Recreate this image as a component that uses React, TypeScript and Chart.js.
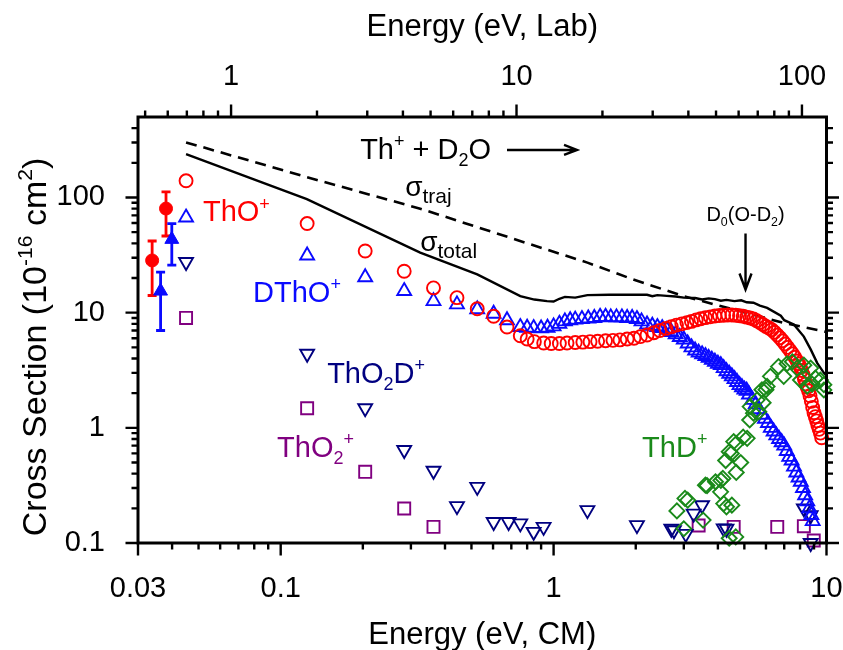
import React, { useEffect, useRef } from "react";
import { Chart, registerables } from "chart.js";

Chart.register(...registerables);

const FONT = "'Liberation Sans', Arial, Helvetica, sans-serif";

// ---------------- data ----------------
const thoX = [0.045, 0.125, 0.204, 0.2835, 0.363, 0.4425, 0.525, 0.603, 0.675, 0.755, 0.8, 0.85, 0.92, 0.98, 1.05, 1.12, 1.2, 1.28, 1.36, 1.45, 1.55, 1.65, 1.75, 1.86, 1.97, 2.08, 2.2, 2.33, 2.45, 2.58, 2.7, 2.82, 2.95, 3.08, 3.2, 3.33, 3.46, 3.6, 3.75, 3.9, 4.05, 4.2, 4.35, 4.5, 4.65, 4.8, 4.95, 5.1, 5.25, 5.4, 5.55, 5.7, 5.85, 6.0, 6.15, 6.3, 6.45, 6.6, 6.75, 6.9, 7.05, 7.2, 7.35, 7.5, 7.65, 7.8, 7.9, 8.0, 8.1, 8.2, 8.3, 8.4, 8.5, 8.6, 8.7, 8.8, 8.9, 9.0, 9.1, 9.2, 9.3, 9.4, 9.5, 9.6];
const thoY = [139.6, 59.4, 34.3, 22.9, 16.4, 13.5, 10.8, 9.3, 7.5, 6.3, 5.9, 5.6, 5.45, 5.4, 5.4, 5.45, 5.5, 5.55, 5.6, 5.65, 5.7, 5.75, 5.8, 5.9, 6.0, 6.2, 6.4, 6.7, 7.0, 7.3, 7.55, 7.8, 8.0, 8.2, 8.4, 8.65, 8.85, 9.05, 9.2, 9.35, 9.45, 9.5, 9.55, 9.55, 9.5, 9.4, 9.3, 9.15, 9.0, 8.8, 8.5, 8.2, 7.9, 7.6, 7.35, 7.1, 6.75, 6.4, 6.05, 5.7, 5.35, 5.0, 4.7, 4.4, 4.1, 3.8, 3.6, 3.4, 3.15, 2.9, 2.65, 2.4, 2.25, 2.1, 1.9, 1.7, 1.5, 1.35, 1.25, 1.15, 1.05, 0.97, 0.9, 0.82];

const dthoX = [0.045, 0.125, 0.204, 0.2835, 0.363, 0.4425, 0.525, 0.603, 0.675, 0.755, 0.8, 0.845, 0.9, 0.95, 1.0, 1.05, 1.1, 1.15, 1.2, 1.27, 1.34, 1.41, 1.48, 1.55, 1.62, 1.7, 1.78, 1.86, 1.94, 2.02, 2.1, 2.2, 2.3, 2.4, 2.5, 2.6, 2.7, 2.8, 2.9, 3.0, 3.1, 3.2, 3.3, 3.4, 3.5, 3.6, 3.7, 3.8, 3.9, 4.0, 4.1, 4.2, 4.3, 4.4, 4.5, 4.6, 4.7, 4.8, 4.9, 5.0, 5.1, 5.2, 5.35, 5.5, 5.65, 5.8, 5.95, 6.1, 6.25, 6.4, 6.55, 6.7, 6.85, 7.0, 7.15, 7.3, 7.45, 7.6, 7.75, 7.9, 8.05, 8.2, 8.35, 8.5, 8.65, 8.8, 8.9];
const dthoY = [67, 31.4, 20.3, 15.4, 12.6, 11.8, 10.7, 9.8, 8.6, 7.5, 7.4, 7.35, 7.3, 7.4, 7.6, 8.0, 8.4, 8.6, 8.7, 8.8, 8.9, 9.0, 9.2, 9.2, 9.1, 9.1, 9.1, 9.0, 9.0, 8.8, 8.4, 7.9, 7.7, 7.5, 7.35, 7.1, 6.8, 6.5, 6.15, 5.85, 5.4, 5.0, 4.7, 4.5, 4.35, 4.2, 4.05, 3.9, 3.75, 3.6, 3.5, 3.3, 3.1, 2.95, 2.8, 2.65, 2.5, 2.35, 2.25, 2.15, 2.1, 1.95, 1.75, 1.6, 1.45, 1.3, 1.2, 1.1, 1.0, 0.93, 0.86, 0.8, 0.75, 0.7, 0.63, 0.56, 0.52, 0.46, 0.41, 0.37, 0.34, 0.3, 0.26, 0.23, 0.2, 0.175, 0.155];

const tho2dX = [0.045, 0.125, 0.204, 0.2835, 0.363, 0.4425, 0.525, 0.603, 0.684, 0.755, 0.845, 0.919, 1.33, 2.02, 2.7, 2.76, 3.05, 3.26, 3.5, 4.2, 4.3, 8.26, 8.75, 8.75];
const tho2dY = [27.5, 4.4, 1.48, 0.642, 0.424, 0.209, 0.307, 0.152, 0.152, 0.148, 0.125, 0.138, 0.193, 0.143, 0.133, 0.129, 0.12, 0.18, 0.213, 0.134, 0.133, 0.2, 0.174, 0.1];

const tho2X = [0.045, 0.125, 0.204, 0.2835, 0.363, 3.4, 4.57, 6.6, 8.26, 8.98];
const tho2Y = [9.0, 1.48, 0.415, 0.1995, 0.138, 0.142, 0.138, 0.138, 0.14, 0.105];

const thdX = [2.83, 3.0, 3.03, 3.1, 3.53, 3.6, 3.65, 3.92, 4.1, 4.09, 4.17, 4.2, 4.3, 4.4, 4.27, 4.5, 4.65, 4.4, 4.48, 4.57, 4.67, 4.67, 4.85, 4.95, 5.12, 5.23, 5.4, 5.25, 5.57, 5.65, 5.86, 5.8, 6.0, 6.06, 6.23, 6.67, 6.97, 7.17, 7.5, 7.8, 8.03, 8.26, 8.5, 8.75, 8.86, 9.1, 9.5, 9.78, 9.78];
const thdY = [0.19, 0.133, 0.244, 0.2355, 0.158, 0.318, 0.315, 0.34, 0.35, 0.278, 0.364, 0.22, 0.206, 0.11, 0.52, 0.213, 0.113, 0.62, 0.6, 0.76, 0.73, 0.41, 0.5, 0.83, 0.81, 1.17, 1.34, 1.53, 1.75, 1.38, 1.65, 2.14, 2.14, 2.29, 2.8, 3.4, 2.8, 3.6, 3.75, 3.3, 2.6, 3.5, 2.3, 3.3, 2.4, 2.7, 2.6, 2.37, 2.13];

const totalX = [0.045, 0.1247, 0.3245, 0.525, 0.755, 0.85, 0.946, 1.0, 1.05, 1.1, 1.2, 1.33, 1.6, 2.0, 2.2, 2.3, 2.4, 2.6, 2.8, 3.0, 3.3, 3.5, 3.7, 3.9, 4.1, 4.3, 4.6, 4.87, 5.1, 5.4, 5.7, 6.06, 6.8, 7.0, 7.59, 8.26, 8.75, 9.25, 9.78, 9.9];
const totalY = [238, 96.6, 33.2, 21.5, 13.9, 13.0, 12.6, 12.5, 13.2, 13.7, 13.5, 14.2, 14.3, 14.3, 14.3, 13.9, 14.2, 14.0, 13.8, 13.5, 13.4, 13.0, 13.3, 13.1, 12.7, 12.9, 12.6, 12.8, 12.3, 12.2, 11.5, 11.0, 9.4, 8.6, 7.9, 6.2, 4.8, 3.65, 3.0, 2.9];

const trajX = [0.045, 0.125, 0.3245, 0.92, 1.33, 1.96, 3.0, 6.97, 10];
const trajY = [301, 150, 80, 36, 27.2, 19.4, 13.9, 8.15, 6.8];

const errThoX = [0.0338, 0.038];
const errThoY = [28.4, 80.2];
const errThoLo = [14.1, 46.3];
const errThoHi = [41.9, 111.9];

const errDthoX = [0.0363, 0.0399];
const errDthoY = [15.4, 43.3];
const errDthoLo = [7.0, 25.9];
const errDthoHi = [22.5, 59.4];

// axis ranges and tick values
const cmRange = [0.03, 10];
const labRange = [0.472, 121.9];
const yRange = [0.1, 500];
const xMajor = [0.03, 0.1, 1, 10];
const xMinor = [0.04, 0.05, 0.06, 0.07, 0.08, 0.09, 0.2, 0.3, 0.4, 0.5, 0.6, 0.7, 0.8, 0.9, 2, 3, 4, 5, 6, 7, 8, 9];
const labMajor = [1, 10, 100];
const labMinor = [0.5, 0.6, 0.7, 0.8, 0.9, 2, 3, 4, 5, 6, 7, 8, 9, 20, 30, 40, 50, 60, 70, 80, 90];
const yMajor = [0.1, 1, 10, 100];
const yMinor = [0.2, 0.3, 0.4, 0.5, 0.6, 0.7, 0.8, 0.9, 2, 3, 4, 5, 6, 7, 8, 9, 20, 30, 40, 50, 60, 70, 80, 90, 200, 300, 400];

// ---------------- styling ----------------
const RED = "#ff0000";
const BLUE = "#0a0aff";
const NAVY = "#000080";
const PURPLE = "#800080";
const GREEN = "#1a8a1a";

type Seg = [string, ("sup" | "sub")?];

const annotations: { segs: Seg[]; x: number; y: number; color: string; size: number; small?: number; align?: string; arrow?: string }[] = [
  { segs: [["ThO"], ["+", "sup"]], x: 0.0519, y: 62, color: RED, size: 29 },
  { segs: [["DThO"], ["+", "sup"]], x: 0.0792, y: 12.5, color: BLUE, size: 29 },
  { segs: [["ThO"], ["2", "sub"], ["D"], ["+", "sup"]], x: 0.148, y: 2.46, color: NAVY, size: 29 },
  { segs: [["ThO"], ["2", "sub"], ["+", "sup"]], x: 0.097, y: 0.558, color: PURPLE, size: 29 },
  { segs: [["ThD"], ["+", "sup"]], x: 2.11, y: 0.558, color: GREEN, size: 29 },
  { segs: [["Th"], ["+", "sup"], [" + D"], ["2", "sub"], ["O"]], x: 0.1955, y: 216, color: "#000", size: 29, arrow: "right" },
  { segs: [["σ"], ["traj", "sub"]], x: 0.286, y: 102.6, color: "#000", size: 28, small: 21 },
  { segs: [["σ"], ["total", "sub"]], x: 0.3245, y: 34, color: "#000", size: 28, small: 21 },
  { segs: [["D"], ["0", "sub"], ["(O-D"], ["2", "sub"], [")"]], x: 5.05, y: 62, color: "#000", size: 20, align: "center", arrow: "down" },
];

const pts = (xs: number[], ys: number[]) => xs.map((x, i) => ({ x, y: ys[i] }));

function drawRich(ctx: CanvasRenderingContext2D, segs: Seg[], x: number, y: number, size: number, color: string, align = "left", small?: number) {
  const sm = small ?? size * 0.62;
  const parts = segs.map(([t, k]) => ({ t, k, f: k ? sm : size, w: 0 }));
  let w = 0;
  for (const p of parts) {
    ctx.font = `${p.f}px ${FONT}`;
    p.w = ctx.measureText(p.t).width;
    w += p.w;
  }
  let cx = align === "center" ? x - w / 2 : align === "right" ? x - w : x;
  ctx.fillStyle = color;
  ctx.textAlign = "left";
  ctx.textBaseline = "alphabetic";
  for (const p of parts) {
    ctx.font = `${p.f}px ${FONT}`;
    const dy = p.k === "sup" ? -size * 0.4 : p.k === "sub" ? size * 0.25 : 0;
    ctx.fillText(p.t, cx, y + dy);
    cx += p.w;
  }
  return { left: align === "center" ? x - w / 2 : x, width: w };
}

const decorPlugin = {
  id: "decor",
  beforeDatasetsDraw(chart: any) {
    const ctx: CanvasRenderingContext2D = chart.ctx;
    const xs = chart.scales.x;
    const ys = chart.scales.y;
    const bars = [
      { X: errThoX, L: errThoLo, H: errThoHi, c: RED },
      { X: errDthoX, L: errDthoLo, H: errDthoHi, c: BLUE },
    ];
    ctx.save();
    ctx.lineWidth = 2.8;
    for (const b of bars) {
      ctx.strokeStyle = b.c;
      b.X.forEach((xv, i) => {
        const px = xs.getPixelForValue(xv);
        const lo = ys.getPixelForValue(b.L[i]);
        const hi = ys.getPixelForValue(b.H[i]);
        ctx.beginPath();
        ctx.moveTo(px, lo);
        ctx.lineTo(px, hi);
        ctx.moveTo(px - 4.5, lo);
        ctx.lineTo(px + 4.5, lo);
        ctx.moveTo(px - 4.5, hi);
        ctx.lineTo(px + 4.5, hi);
        ctx.stroke();
      });
    }
    ctx.restore();
  },
  afterDraw(chart: any) {
    const ctx: CanvasRenderingContext2D = chart.ctx;
    const { left, right, top, bottom } = chart.chartArea;
    const xs = chart.scales.x;
    const x2 = chart.scales.x2;
    const ys = chart.scales.y;
    ctx.save();
    ctx.strokeStyle = "#000";
    ctx.lineCap = "butt";
    // ticks
    ctx.lineWidth = 2.4;
    ctx.beginPath();
    const MAJ = 12.5;
    const MIN = 6.5;
    for (const v of [...xMajor, ...xMinor]) {
      const p = xs.getPixelForValue(v);
      const l = xMajor.includes(v) ? MAJ : MIN;
      ctx.moveTo(p, bottom);
      ctx.lineTo(p, bottom + l);
    }
    for (const v of [...labMajor, ...labMinor]) {
      const p = x2.getPixelForValue(v);
      const l = labMajor.includes(v) ? MAJ : MIN;
      ctx.moveTo(p, top);
      ctx.lineTo(p, top - l);
    }
    for (const v of [...yMajor, ...yMinor]) {
      const p = ys.getPixelForValue(v);
      const l = yMajor.includes(v) ? MAJ : MIN;
      ctx.moveTo(left, p);
      ctx.lineTo(left - l, p);
      ctx.moveTo(right, p);
      ctx.lineTo(right + l, p);
    }
    ctx.stroke();
    // frame
    ctx.lineWidth = 3;
    ctx.strokeRect(left, top, right - left, bottom - top);

    // axis titles
    const cxm = (left + right) / 2;
    drawRich(ctx, [["Energy (eV, CM)"]], cxm, 644, 31, "#000", "center");
    drawRich(ctx, [["Energy (eV, Lab)"]], cxm, 36, 31, "#000", "center");
    ctx.save();
    ctx.translate(46, (top + bottom) / 2 + 17);
    ctx.rotate(-Math.PI / 2);
    drawRich(ctx, [["Cross Section (10"], ["-16", "sup"], [" cm"], ["2", "sup"], [")"]], 0, 0, 34, "#000", "center");
    ctx.restore();

    // annotations
    for (const a of annotations) {
      const px = xs.getPixelForValue(a.x);
      const py = ys.getPixelForValue(a.y);
      const r = drawRich(ctx, a.segs, px, py, a.size, a.color, a.align || "left", a.small);
      ctx.strokeStyle = a.color;
      ctx.lineWidth = 2.4;
      if (a.arrow === "right") {
        const sx = r.left + r.width + 16;
        const ex = sx + 70;
        const ay = py - 9;
        ctx.beginPath();
        ctx.moveTo(sx, ay);
        ctx.lineTo(ex, ay);
        ctx.moveTo(ex - 13, ay - 5);
        ctx.lineTo(ex, ay);
        ctx.lineTo(ex - 13, ay + 5);
        ctx.stroke();
      } else if (a.arrow === "down") {
        const sy = py + 12;
        const ey = ys.getPixelForValue(15.9);
        ctx.beginPath();
        ctx.moveTo(px, sy);
        ctx.lineTo(px, ey);
        ctx.moveTo(px - 6, ey - 16);
        ctx.lineTo(px, ey);
        ctx.lineTo(px + 6, ey - 16);
        ctx.stroke();
      }
    }
    ctx.restore();
  },
};

function makeLogScale(position: string, range: number[], major: number[], minor: number[], fit: (s: any) => void, padding: number) {
  const all = [...major, ...minor].sort((a, b) => a - b);
  return {
    type: "logarithmic",
    position,
    min: range[0],
    max: range[1],
    grid: { display: false, drawTicks: false },
    border: { display: false },
    afterBuildTicks: (s: any) => {
      s.ticks = all.map((v) => ({ value: v }));
    },
    afterFit: (s: any) => {
      fit(s);
      s.paddingLeft = 0;
      s.paddingRight = 0;
      s.paddingTop = 0;
      s.paddingBottom = 0;
    },
    ticks: {
      autoSkip: false,
      maxRotation: 0,
      minRotation: 0,
      padding,
      color: "#000",
      font: { family: FONT, size: 29 },
      callback: (v: any) => (major.includes(Number(v)) ? String(v) : ""),
    },
  };
}

export default function App() {
  const ref = useRef<HTMLCanvasElement>(null);
  useEffect(() => {
    document.body.style.margin = "0";
    const canvas = ref.current!;
    const chart = new Chart(canvas, {
      type: "scatter",
      data: {
        datasets: [
          { label: "σtraj", data: pts(trajX, trajY), showLine: true, borderColor: "#000", borderWidth: 2.6, borderDash: [11, 7], pointRadius: 0, fill: false, order: 10 },
          { label: "σtotal", data: pts(totalX, totalY), showLine: true, borderColor: "#000", borderWidth: 2.4, pointRadius: 0, fill: false, order: 9 },
          { label: "ThO2+", data: pts(tho2X, tho2Y), pointStyle: "rect", pointRadius: 8.5, borderWidth: 1.9, borderColor: PURPLE, backgroundColor: "rgba(0,0,0,0)", clip: false, order: 8 },
          { label: "ThO2D+", data: pts(tho2dX, tho2dY), pointStyle: "triangle", pointRotation: 180, pointRadius: 8, borderWidth: 1.9, borderColor: NAVY, backgroundColor: "rgba(0,0,0,0)", clip: false, order: 7 },
          { label: "DThO+", data: pts(dthoX, dthoY), pointStyle: "triangle", pointRadius: 8, borderWidth: 1.9, borderColor: BLUE, backgroundColor: "rgba(0,0,0,0)", clip: false, order: 6 },
          { label: "ThO+", data: pts(thoX, thoY), pointStyle: "circle", pointRadius: 6.5, borderWidth: 1.9, borderColor: RED, backgroundColor: "rgba(0,0,0,0)", clip: false, order: 5 },
          { label: "ThD+", data: pts(thdX, thdY), pointStyle: "rectRot", pointRadius: 7.5, borderWidth: 1.9, borderColor: GREEN, backgroundColor: "rgba(0,0,0,0)", clip: false, order: 4 },
          { label: "ThO+ (thermal)", data: pts(errThoX, errThoY), pointStyle: "circle", pointRadius: 6.5, borderWidth: 1, borderColor: RED, backgroundColor: RED, clip: false, order: 3 },
          { label: "DThO+ (thermal)", data: pts(errDthoX, errDthoY), pointStyle: "triangle", pointRadius: 8, borderWidth: 1, borderColor: BLUE, backgroundColor: BLUE, clip: false, order: 2 },
        ] as any,
      },
      options: {
        responsive: false,
        animation: false,
        devicePixelRatio: 1,
        events: [],
        layout: { padding: { left: 0, right: 16.5, top: 0, bottom: 0 } },
        plugins: { legend: { display: false }, tooltip: { enabled: false } },
        scales: {
          x: makeLogScale("bottom", cmRange, xMajor, xMinor, (s) => { s.height = 107; }, 29) as any,
          x2: makeLogScale("top", labRange, labMajor, labMinor, (s) => { s.height = 117; }, 23) as any,
          y: makeLogScale("left", yRange, yMajor, yMinor, (s) => { s.width = 138; }, 33) as any,
        },
      },
      plugins: [decorPlugin as any],
    });
    return () => chart.destroy();
  }, []);
  return (
    <div style={{ width: 843, height: 650 }}>
      <canvas ref={ref} width={843} height={650} style={{ display: "block" }} />
    </div>
  );
}
